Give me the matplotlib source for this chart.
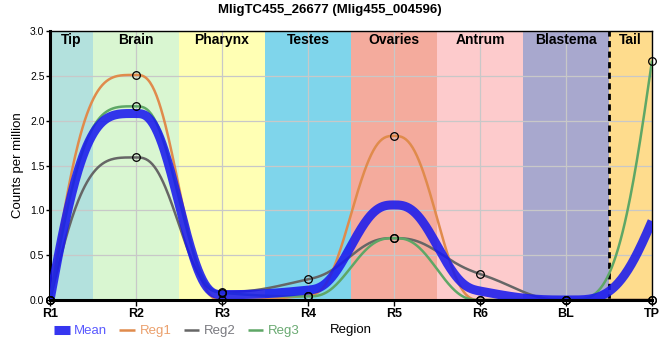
import numpy as np
import matplotlib
matplotlib.use("Agg")
import matplotlib.pyplot as plt

plt.rcParams['font.family'] = ['Liberation Sans', 'DejaVu Sans']

# data
regions = ["R1", "R2", "R3", "R4", "R5", "R6", "BL", "TP"]
bands = ["Tip", "Brain", "Pharynx", "Testes", "Ovaries", "Antrum", "Blastema", "Tail"]
band_colors = ["#b3e1dd", "#d9f6d1", "#ffffb4", "#7fd5eb", "#f4ab9d",
               "#fdcbcc", "#a8a8ce", "#fedc8d"]

mean = [0.0, 2.08, 0.06, 0.11, 1.06, 0.10, 0.0, 0.88]
reg1 = [0.0, 2.51, 0.0, 0.05, 1.83, 0.0, 0.0, 0.0]
reg2 = [0.0, 1.59, 0.09, 0.23, 0.69, 0.29, 0.0, 0.0]
reg3 = [0.0, 2.16, 0.08, 0.04, 0.69, 0.0, 0.0, 2.67]


def smooth_curve(values, k=2.5, n=80):
    """Quintic Hermite curve through the points (flat tops, steep ends)."""
    y = np.asarray(values, dtype=float)
    d = np.diff(y)
    m = np.zeros_like(y)
    for i in range(1, len(y) - 1):
        if d[i - 1] * d[i] > 0:
            m[i] = 2 * d[i - 1] * d[i] / (d[i - 1] + d[i])
    m[0] = k * d[0]
    m[-1] = k * d[-1]
    t = np.linspace(0, 1, n)
    h0 = 1 - 10 * t**3 + 15 * t**4 - 6 * t**5
    h1 = t - 6 * t**3 + 8 * t**4 - 3 * t**5
    h2 = -4 * t**3 + 7 * t**4 - 3 * t**5
    h3 = 10 * t**3 - 15 * t**4 + 6 * t**5
    xs, ys = [], []
    for i in range(len(y) - 1):
        xs.append(i + t)
        ys.append(y[i] * h0 + m[i] * h1 + m[i + 1] * h2 + y[i + 1] * h3)
    return np.concatenate(xs), np.concatenate(ys)


fig = plt.figure(figsize=(6.6, 3.6), dpi=100)
ax = fig.add_axes([50 / 660, 1 - 300 / 360, 602 / 660, 269 / 360])

x = np.arange(len(regions))

# region background bands
for i, (name, col) in enumerate(zip(bands, band_colors)):
    lo = max(i - 0.5, 0)
    hi = min(i + 0.5, len(regions) - 1)
    ax.axvspan(lo, hi, color=col, zorder=0, lw=0)
    ax.text((lo + hi) / 2, 2.9, name, ha='center', va='center',
            fontsize=10, fontweight='bold', zorder=6)

ax.axvline(6.5, color='black', lw=2, ls=(0, (2.2, 1.6)), zorder=2)

series = [("Reg1", reg1, "#e08b4c"), ("Reg2", reg2, "#666666"), ("Reg3", reg3, "#5ea766")]
for name, vals, col in series:
    sx, sy = smooth_curve(vals)
    ax.plot(sx, sy, color=col, lw=1.8, label=name, zorder=3, solid_capstyle='butt')

mx, my = smooth_curve(mean)
ax.plot(mx, my, color="#1a1aee", lw=6.5, alpha=0.88, label="Mean", zorder=4,
        solid_capstyle='butt')

for name, vals, col in series:
    ax.plot(x, vals, ls='none', marker='o', ms=5.5, mfc='none', mec='black',
            mew=0.9, zorder=5, clip_on=False)

ax.set_xlim(0, 7)
ax.set_ylim(0, 3)
ax.set_xticks(x)
ax.set_xticklabels(regions, fontsize=9, fontweight='bold')
ax.set_yticks(np.arange(0, 3.01, 0.5))
ax.set_yticklabels([f"{v:.1f}" for v in np.arange(0, 3.01, 0.5)], fontsize=7.5)
ax.tick_params(axis='x', length=4, width=1, pad=2)
ax.tick_params(axis='y', length=3, width=1, pad=1)
ax.grid(True, color='#c8c8c8', lw=0.9)
ax.set_axisbelow(True)

for side in ['left', 'bottom']:
    ax.spines[side].set_linewidth(2.2)
for side in ['top', 'right']:
    ax.spines[side].set_linewidth(1)
ax.spines['bottom'].set_zorder(7)

ax.set_ylabel("Counts per million", fontsize=9.5, labelpad=4)
ax.set_xlabel("Region", fontsize=9.5)
ax.xaxis.set_label_coords(0.5, -0.09)

fig.text(0.5, 1 - 10 / 360, "MligTC455_26677 (Mlig455_004596)", ha='center',
         va='center', fontsize=9.5, fontweight='bold')

handles, labels = ax.get_legend_handles_labels()
order = [3, 0, 1, 2]
leg = fig.legend([handles[i] for i in order], [labels[i] for i in order],
                 loc='center', bbox_to_anchor=(0.268, 1 - 331 / 360), ncol=4,
                 frameon=False, fontsize=9.5, handlelength=1.2, handletextpad=0.35,
                 columnspacing=0.9, borderpad=0, borderaxespad=0)
text_cols = ["#5a5aff", "#eba06c", "#7a7a80", "#6aaa72"]
for txt, c in zip(leg.get_texts(), text_cols):
    txt.set_color(c)

fig.savefig("out.png", dpi=100)
